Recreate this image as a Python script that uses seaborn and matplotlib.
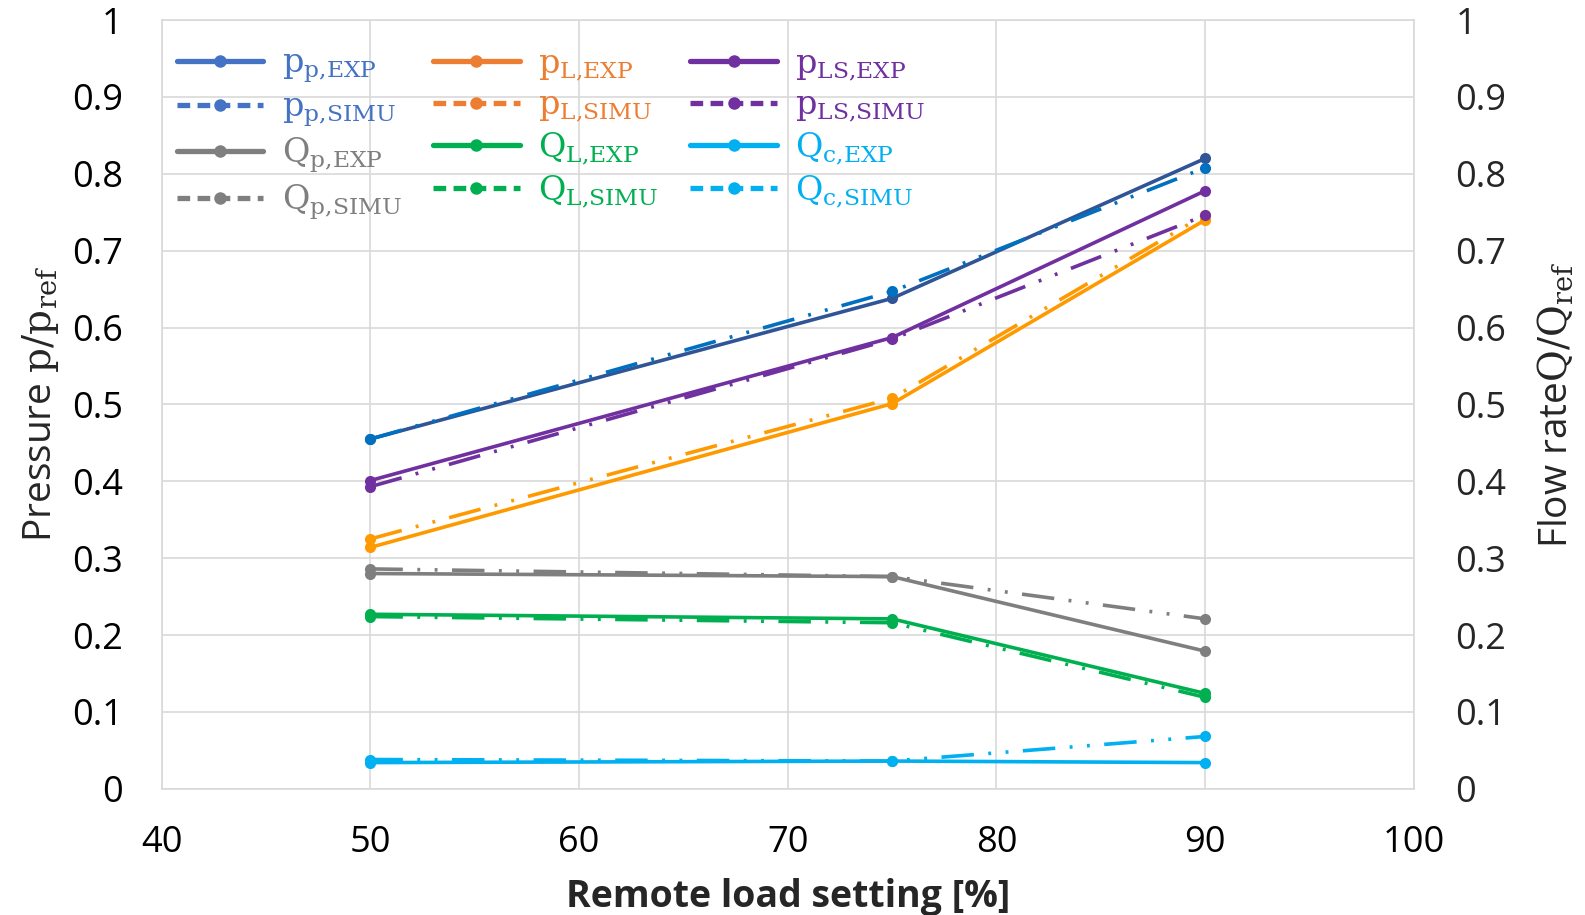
import matplotlib
matplotlib.use("Agg")
import matplotlib.pyplot as plt
import seaborn as sns
import pandas as pd
from matplotlib.lines import Line2D

load = [50, 75, 90]
pp_exp = [0.455, 0.638, 0.820]
pp_simu = [0.455, 0.647, 0.808]
pL_exp = [0.314, 0.501, 0.740]
pL_simu = [0.325, 0.508, 0.747]
pLS_exp = [0.401, 0.587, 0.778]
pLS_simu = [0.393, 0.585, 0.746]
Qp_exp = [0.280, 0.276, 0.179]
Qp_simu = [0.286, 0.276, 0.221]
QL_exp = [0.227, 0.221, 0.124]
QL_simu = [0.224, 0.216, 0.119]
Qc_exp = [0.034, 0.036, 0.034]
Qc_simu = [0.038, 0.036, 0.068]

xticks = [40, 50, 60, 70, 80, 90, 100]
yticks = [0, 0.1, 0.2, 0.3, 0.4, 0.5, 0.6, 0.7, 0.8, 0.9, 1]
ytick_labels = ["0", "0.1", "0.2", "0.3", "0.4", "0.5", "0.6", "0.7", "0.8", "0.9", "1"]

sns.set_theme(style="white")
plt.rcParams['font.family'] = ['Open Sans', 'DejaVu Sans']
plt.rcParams['mathtext.fontset'] = 'dejavuserif'

fig = plt.figure(figsize=(15.85, 9.15), dpi=100)
ax = fig.add_axes([0.102, 0.138, 0.790, 0.840])

# (data, plot colour, legend colour, label, simu?)
series = [
    (pp_exp, "#2F5597", "#4472C4", r"$\mathrm{p_{p{,}EXP}}$", False),
    (pp_simu, "#0070C0", "#4472C4", r"$\mathrm{p_{p{,}SIMU}}$", True),
    (Qp_exp, "#7F7F7F", "#7F7F7F", r"$\mathrm{Q_{p{,}EXP}}$", False),
    (Qp_simu, "#7F7F7F", "#7F7F7F", r"$\mathrm{Q_{p{,}SIMU}}$", True),
    (pL_exp, "#FF9900", "#ED7D31", r"$\mathrm{p_{L{,}EXP}}$", False),
    (pL_simu, "#FF9900", "#ED7D31", r"$\mathrm{p_{L{,}SIMU}}$", True),
    (QL_exp, "#00B050", "#00B050", r"$\mathrm{Q_{L{,}EXP}}$", False),
    (QL_simu, "#00B050", "#00B050", r"$\mathrm{Q_{L{,}SIMU}}$", True),
    (pLS_exp, "#7030A0", "#7030A0", r"$\mathrm{p_{LS{,}EXP}}$", False),
    (pLS_simu, "#7030A0", "#7030A0", r"$\mathrm{p_{LS{,}SIMU}}$", True),
    (Qc_exp, "#00B0F0", "#00B0F0", r"$\mathrm{Q_{c{,}EXP}}$", False),
    (Qc_simu, "#00B0F0", "#00B0F0", r"$\mathrm{Q_{c{,}SIMU}}$", True),
]

handles = []
labels = []
for vals, col, lcol, lab, simu in series:
    df = pd.DataFrame({"x": load, "y": vals})
    sns.lineplot(data=df, x="x", y="y", ax=ax, color=col, linewidth=2.6,
                 marker="o", markersize=8, markeredgewidth=0, zorder=3)
    if simu:
        ax.lines[-1].set_dashes((9, 4, 0.8, 4, 0.8, 4))
    h = Line2D([0], [0], color=lcol, linewidth=3.8, marker="o", markersize=9,
               markeredgewidth=0, linestyle=(0, (2.4, 1.4)) if simu else "-")
    handles.append(h)
    labels.append(lab)

ax.set_xlim(40, 100)
ax.set_ylim(0, 1)
ax.set_xticks(xticks)
ax.set_xticklabels([str(t) for t in xticks])
ax.set_yticks(yticks)
ax.set_yticklabels(ytick_labels)
ax.grid(True, color="#D9D9D9", linewidth=1.2)
ax.set_axisbelow(True)
for s in ax.spines.values():
    s.set_color("#D9D9D9")
    s.set_linewidth(1.2)
ax.tick_params(axis="x", labelsize=26, length=0, pad=26, colors="black")
ax.tick_params(axis="y", labelsize=26, length=0, pad=28, colors="black")
ax.set_xlabel("Remote load setting [%]", fontsize=27, fontweight="bold", labelpad=12)
ax.set_ylabel(r"Pressure $\mathrm{p/p_{ref}}$", fontsize=28, labelpad=8)

ax2 = ax.twinx()
ax2.set_ylim(0, 1)
ax2.set_yticks(yticks)
ax2.set_yticklabels(ytick_labels)
ax2.tick_params(axis="y", labelsize=26, length=0, pad=30)
for s in ax2.spines.values():
    s.set_visible(False)
ax2.set_ylabel(r"Flow rate$\mathrm{Q/Q_{ref}}$", fontsize=28, labelpad=22)

leg = ax.legend(handles, labels, loc="upper left", ncol=3, frameon=False,
                fontsize=24, handlelength=2.6, handletextpad=0.55,
                columnspacing=0.95, labelspacing=0.2,
                borderaxespad=0.2, bbox_to_anchor=(-0.004, 0.99))
for text, (_, _, lcol, _, _) in zip(leg.get_texts(), series):
    text.set_color(lcol)

fig.savefig("out.png", dpi=100)
